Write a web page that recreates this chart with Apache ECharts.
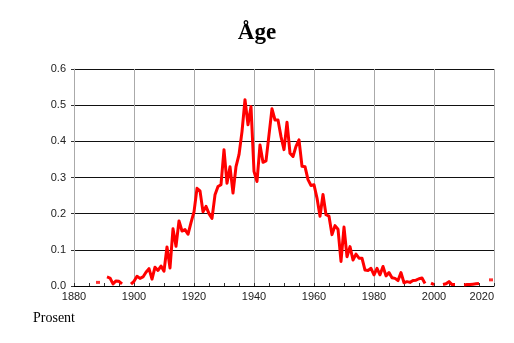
<!DOCTYPE html>
<html>
<head>
<meta charset="utf-8">
<script src="https://cdn.jsdelivr.net/npm/echarts@6/dist/echarts.min.js"></script>
<style>
  html, body { margin: 0; padding: 0; background: #fff; }
  #chart { width: 514px; height: 343px; }
</style>
</head>
<body>
<div id="chart"></div>
<script>
const titleText = 'Åge'
const unitLabel = 'Prosent'
const firstYear = 1888
// andel per år, null = ingen data
const shares = [
  0.01, null, null, 0.025, 0.022, 0.006, 0.014, 0.013, 0.006, null, null, 0.005,
  0.013, 0.027, 0.021, 0.025, 0.038, 0.048, 0.019, 0.052, 0.043, 0.055,
  0.041, 0.108, 0.05, 0.158, 0.11, 0.18, 0.152, 0.156, 0.143, 0.175,
  0.205, 0.27, 0.263, 0.205, 0.22, 0.2, 0.187, 0.252, 0.275, 0.28,
  0.377, 0.284, 0.33, 0.257, 0.33, 0.363, 0.427, 0.515, 0.446, 0.496,
  0.317, 0.289, 0.39, 0.342, 0.346, 0.418, 0.49, 0.459, 0.459, 0.413,
  0.377, 0.453, 0.367, 0.358, 0.386, 0.404, 0.331, 0.33, 0.294, 0.278,
  0.28, 0.243, 0.193, 0.253, 0.197, 0.193, 0.142, 0.167, 0.157, 0.068,
  0.163, 0.081, 0.109, 0.072, 0.088, 0.077, 0.077, 0.044, 0.043, 0.049,
  0.031, 0.049, 0.031, 0.054, 0.028, 0.037, 0.023, 0.021, 0.015, 0.037,
  0.009, 0.012, 0.01, 0.015, 0.016, 0.02, 0.022, 0.007, null, 0.008,
  0.004, null, null, 0.004, 0.006, 0.012, 0.004, 0.004, null, null,
  0.003, 0.004, 0.004, 0.005, 0.006, 0.007, null, null, null, 0.017,
]
const years = shares.map((_, i) => firstYear + i)
const xTicks = [1880, 2020, 20]
const yTicks = [0, 0.6, 0.1]

const lineData = years.map((y, i) => [y, shares[i]])
// enkeltpunkter uten naboer tegnes som små prikker
const dotData = lineData.filter((p, i) => p[1] != null && shares[i - 1] == null && shares[i + 1] == null)

const chart = echarts.init(document.getElementById('chart'), null, { renderer: 'canvas' })
chart.setOption({
  animation: false,
  title: {
    text: titleText,
    left: 'center',
    top: 17,
    textStyle: { fontFamily: 'Liberation Serif', fontWeight: 'bold', fontSize: 23, color: '#000' },
  },
  graphic: [{
    type: 'text',
    left: 33,
    top: 311,
    style: { text: unitLabel, font: '14px "Liberation Serif"', fill: '#000' },
  }],
  grid: { left: 74, right: 20, top: 69, bottom: 57 },
  xAxis: {
    type: 'value',
    min: xTicks[0],
    max: xTicks[1],
    interval: xTicks[2],
    axisLine: { lineStyle: { color: '#000', width: 1 } },
    axisTick: { show: true, inside: true, length: 3, lineStyle: { color: '#333' } },
    minorTick: { show: true, splitNumber: 4, length: 3, lineStyle: { color: '#333' } },
    axisLabel: {
      color: '#222', fontSize: 11, fontFamily: 'Liberation Sans', margin: 5,
      alignMaxLabel: 'right',
      formatter: (v) => String(v),
    },
    splitLine: { show: true, lineStyle: { color: '#aaa', width: 1 } },
  },
  yAxis: {
    type: 'value',
    min: yTicks[0],
    max: yTicks[1],
    interval: yTicks[2],
    axisLine: { show: true, lineStyle: { color: '#aaa', width: 1 } },
    axisTick: { show: true, length: 3, lineStyle: { color: '#333' } },
    axisLabel: {
      color: '#222', fontSize: 11, fontFamily: 'Liberation Sans', margin: 8,
      formatter: (v) => v.toFixed(1),
    },
    splitLine: { show: true, lineStyle: { color: '#111', width: 1 } },
  },
  series: [
    {
      type: 'line',
      data: lineData,
      showSymbol: false,
      connectNulls: false,
      clip: false,
      lineStyle: { color: '#ff0000', width: 3, join: 'round' },
    },
    {
      type: 'scatter',
      data: dotData,
      symbol: 'rect',
      symbolSize: [4, 3],
      itemStyle: { color: '#ff0000' },
    },
  ],
})
</script>
</body>
</html>
